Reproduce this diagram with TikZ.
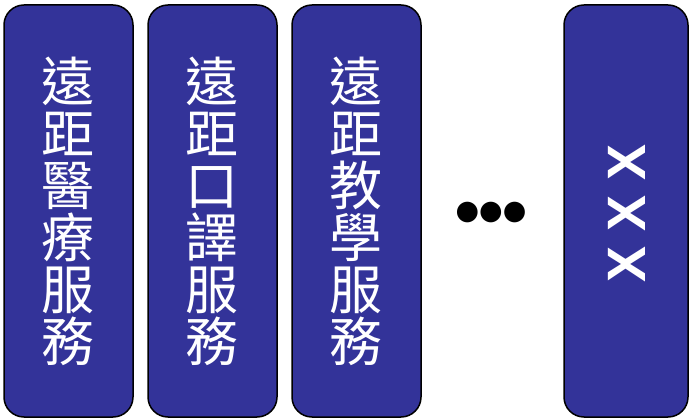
\documentclass[tikz,border=0pt]{standalone}
\usepackage{fontspec}
\newfontfamily\cjk{Noto Sans CJK TC}
\newfontfamily\sym{DejaVu Sans}
\setmainfont{Liberation Sans}
\definecolor{boxblue}{HTML}{333399}
\begin{document}
\begin{tikzpicture}[x=1pt,y=-1pt,
  panel/.style={draw=black,line width=1.5pt,fill=boxblue,rounded corners=20pt},
  vtext/.style={text=white,align=center,font=\cjk\fontsize{53}{52}\selectfont,inner sep=0pt}]
\useasboundingbox (0,0) rectangle (690,419);
\draw[panel] (4,5) rectangle (133,417);
\draw[panel] (148,5) rectangle (277,417);
\draw[panel] (292,5) rectangle (421,417);
\draw[panel] (564,5) rectangle (688,417);
\node[vtext] (a) at (68,211) {遠\\距\\醫\\療\\服\\務};
\node[vtext] (b) at (212,211) {遠\\距\\口\\譯\\服\\務};
\node[vtext] (c) at (356,211) {遠\\距\\教\\學\\服\\務};
\node[text=black,inner sep=0pt,font=\sym\fontsize{27}{27}\selectfont] (d) at (491,213) {●●●};
\node[text=white,inner sep=0pt,rotate=90,font=\bfseries\fontsize{54}{54}\selectfont] (e) at (627,213) {X X X};
\end{tikzpicture}
\end{document}
